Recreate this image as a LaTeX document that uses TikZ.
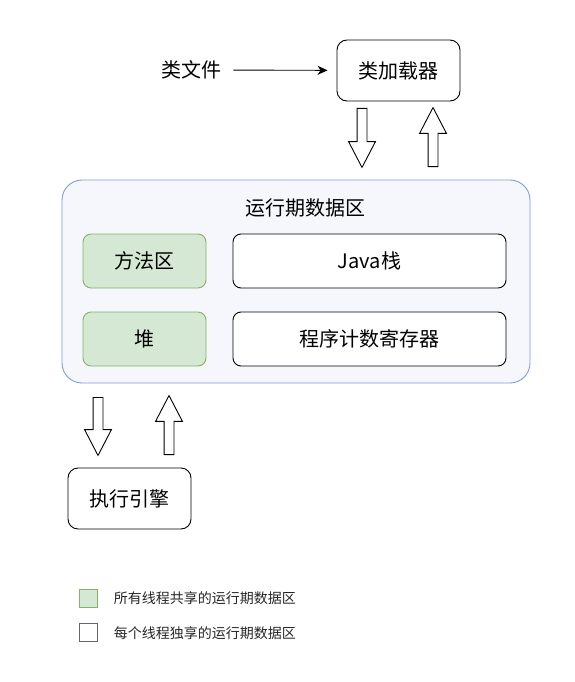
\documentclass[tikz,border=0pt]{standalone}
\usepackage{fontspec}
\setmainfont{Noto Sans CJK SC}
\usetikzlibrary{arrows.meta,shapes.arrows,positioning}
\definecolor{regionfill}{HTML}{F5F7FC}
\definecolor{regionline}{HTML}{7E9FD0}
\definecolor{sharedfill}{HTML}{D5E8D4}
\definecolor{sharedline}{HTML}{82B366}
\definecolor{keyline}{HTML}{666666}

\begin{document}
\begin{tikzpicture}[x=1pt,y=-1pt,>={Stealth[length=10pt,width=9pt,inset=3pt]},line width=0.9pt,
  font=\fontsize{20}{24}\selectfont,
  box/.style={draw,rounded corners=8pt,fill=white,inner sep=0pt},
  shared/.style={box,fill=sharedfill,draw=sharedline},
  unit/.style={box,rounded corners=10pt,minimum width=123pt,minimum height=61pt},
  region/.style={draw=regionline,fill=regionfill,rounded corners=20pt,
    minimum width=468pt,minimum height=203pt},
  blockarrow/.style={single arrow,draw,fill=white,inner sep=0pt,inner ysep=4.5pt,
    minimum height=59pt,single arrow head extend=8.5pt,single arrow tip angle=55,
    anchor=tail},
  keybox/.style={draw,minimum size=18pt,inner sep=0pt},
  keytext/.style={font=\fontsize{14}{16}\selectfont,text=black!85,inner sep=0pt}]
\useasboundingbox (0,0) rectangle (575,682);

% loader and its input
\node[unit] (loader) at (398.5,70.5) {类加载器};
\node[inner sep=0pt] (classfile) at (191,70) {类文件};
\path[->] (classfile) edge [shorten <=12pt,shorten >=9pt] (loader);

% runtime data area
\node[region] (region) at (296,281.5) {};
\node (title) at (305,208) {运行期数据区};
\node[shared,minimum width=123pt,minimum height=54pt] (method) at (144.5,261) {方法区};
\node[box,minimum width=273pt,minimum height=54pt] (stack) at (369.5,261) {Java栈};
\node[shared,minimum width=123pt,minimum height=54pt] (heap) at (144.5,339) {堆};
\node[box,minimum width=273pt,minimum height=54pt] (pc) at (369.5,339) {程序计数寄存器};

% execution engine
\node[unit] (engine) at (129.5,498.5) {执行引擎};

% hollow arrows
\node[blockarrow,rotate=-90] (loadtoregion) at (362,108) {};
\node[blockarrow,rotate=90] (regiontoload) at (433,167) {};
\node[blockarrow,rotate=-90,minimum height=58pt] (regiontoengine) at (98,397) {};
\node[blockarrow,rotate=90] (enginetoregion) at (169,455) {};

% legend
\node[keybox,draw=sharedline,fill=sharedfill] (sharedkey) at (88,598) {};
\node[keytext,anchor=west,right=16pt of sharedkey] (sharedtext) {所有线程共享的运行期数据区};
\node[keybox,draw=keyline,fill=white,below=16pt of sharedkey] (ownkey) {};
\node[keytext,anchor=west,right=16pt of ownkey] (owntext) {每个线程独享的运行期数据区};
\end{tikzpicture}
\end{document}
